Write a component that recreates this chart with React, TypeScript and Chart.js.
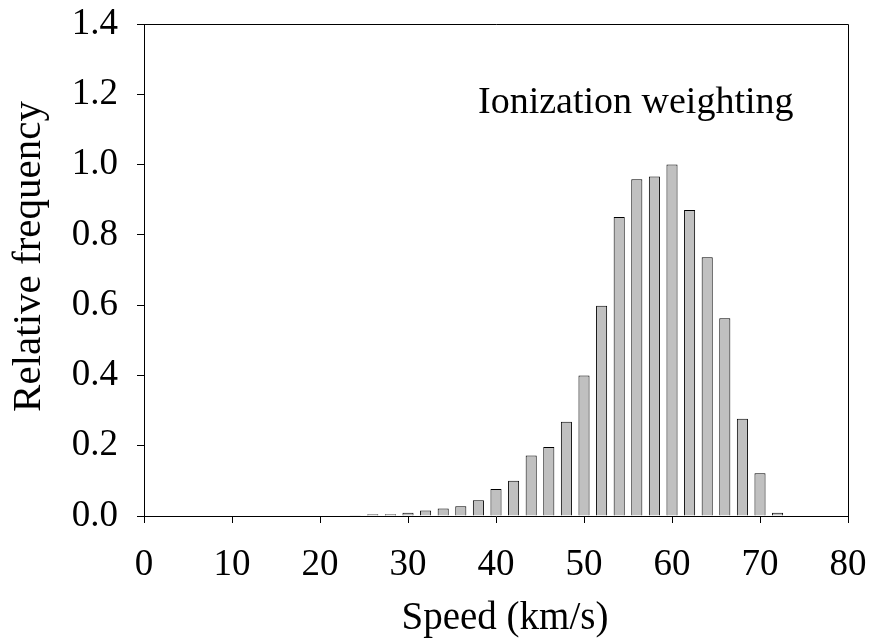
import React, { useEffect, useRef } from "react";
import { Chart, registerables } from "chart.js";

Chart.register(...registerables);

const speeds = [24, 26, 28, 30, 32, 34, 36, 38, 40, 42, 44, 46, 48, 50, 52, 54, 56, 58, 60, 62, 64, 66, 68, 70, 72];
const frequencies = [
  0.002, 0.005, 0.005, 0.009, 0.016, 0.021, 0.028, 0.045, 0.077, 0.1, 0.172, 0.196, 0.268, 0.4, 0.598, 0.851,
  0.958, 0.966, 1.0, 0.871, 0.736, 0.563, 0.277, 0.122, 0.009,
];
const xTitle = "Speed (km/s)";
const yTitle = "Relative frequency";
const annotation = "Ionization weighting";

const FONT = "Liberation Serif, Times New Roman, serif";
const FS = 37;

const textPlugin = {
  id: "frameAndText",
  afterDraw(chart: any) {
    const { ctx, chartArea } = chart;
    const { left, top, right, bottom } = chartArea;
    ctx.save();
    // top and right frame
    ctx.strokeStyle = "#000";
    ctx.lineWidth = 1;
    ctx.beginPath();
    ctx.moveTo(left, top + 0.5);
    ctx.lineTo(right + 0.5, top + 0.5);
    ctx.lineTo(right + 0.5, bottom);
    ctx.stroke();

    ctx.fillStyle = "#000";
    ctx.textBaseline = "alphabetic";
    // annotation
    ctx.font = `38px ${FONT}`;
    ctx.textAlign = "left";
    ctx.fillText(annotation, 478, 113);
    // x title
    ctx.font = `39px ${FONT}`;
    ctx.textAlign = "center";
    ctx.fillText(xTitle, 505, 629);
    // y title
    ctx.font = `41px ${FONT}`;
    ctx.translate(40, 256.5);
    ctx.rotate(-Math.PI / 2);
    ctx.fillText(yTitle, 0, 0);
    ctx.restore();
  },
};

const zeroPad = (s: any) => {
  s.paddingTop = 0;
  s.paddingBottom = 0;
  s.paddingLeft = 0;
  s.paddingRight = 0;
};

export default function App() {
  const ref = useRef<HTMLCanvasElement | null>(null);
  useEffect(() => {
    if (!ref.current) return;
    const chart = new Chart(ref.current, {
      type: "bar",
      data: {
        datasets: [
          {
            data: speeds.map((s, i) => ({ x: s, y: frequencies[i] })),
            backgroundColor: "#c0c0c0",
            borderColor: "#000",
            borderWidth: 1,
            borderSkipped: "bottom",
            barPercentage: 0.63,
            categoryPercentage: 1,
          },
        ],
      },
      options: {
        animation: false,
        responsive: false,
        devicePixelRatio: 1,
        layout: { padding: { top: 24, right: 25, left: 0, bottom: 0 } },
        plugins: { legend: { display: false }, tooltip: { enabled: false } },
        scales: {
          x: {
            type: "linear",
            min: 0,
            max: 80,
            offset: false,
            grid: { offset: false, drawOnChartArea: false, drawTicks: true, tickLength: 7, tickColor: "#000", color: "#000" },
            border: { display: true, color: "#000", width: 1 },
            ticks: { stepSize: 10, color: "#000", padding: 20, maxRotation: 0, font: { family: FONT, size: FS } },
            afterFit: (s: any) => {
              s.height = 128;
              zeroPad(s);
            },
          },
          y: {
            type: "linear",
            min: 0,
            max: 1.4,
            grid: { drawOnChartArea: false, drawTicks: true, tickLength: 7, tickColor: "#000", color: "#000" },
            border: { display: true, color: "#000", width: 1 },
            ticks: {
              stepSize: 0.2,
              color: "#000",
              padding: 19,
              font: { family: FONT, size: FS },
              callback: (v: any) => Number(v).toFixed(1),
            },
            afterFit: (s: any) => {
              s.width = 144;
              zeroPad(s);
            },
          },
        },
      },
      plugins: [textPlugin],
    } as any);
    return () => chart.destroy();
  }, []);
  return (
    <div style={{ position: "absolute", left: 0, top: 0, width: 873, height: 644, background: "#fff" }}>
      <canvas ref={ref} width={873} height={644} style={{ display: "block" }} />
    </div>
  );
}
